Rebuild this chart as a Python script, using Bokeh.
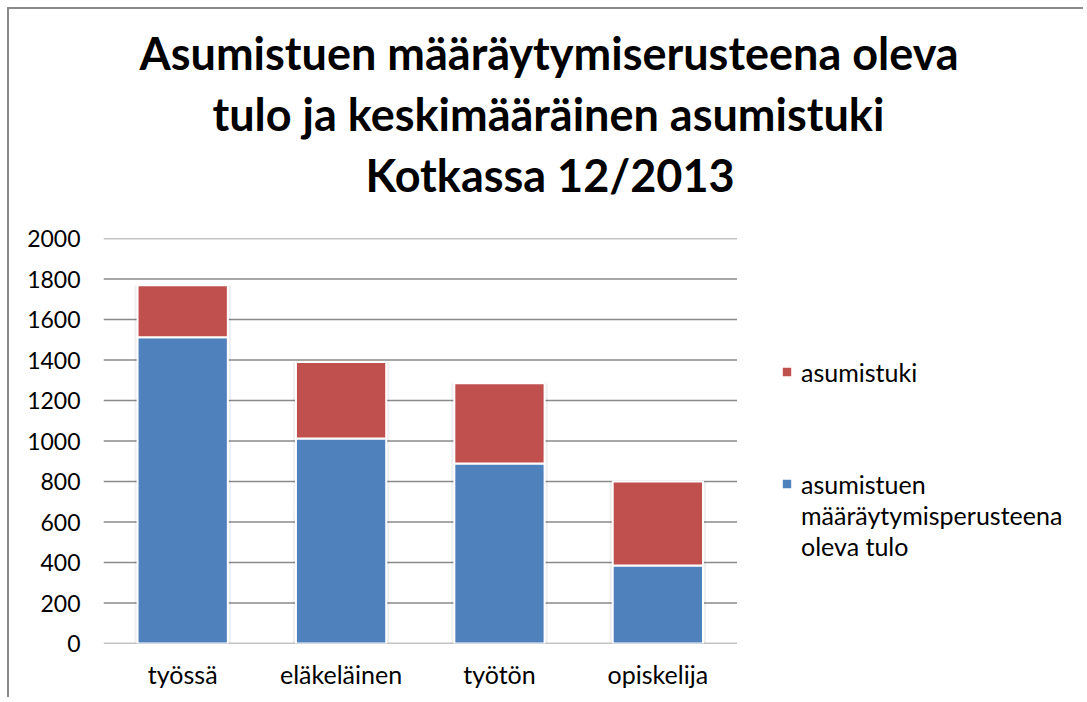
from bokeh.plotting import figure
from bokeh.models import ColumnDataSource, Legend, LegendItem, Title, FixedTicker
from bokeh.embed import file_html
from bokeh.resources import INLINE

categories = ["työssä", "eläkeläinen", "työtön", "opiskelija"]
tulo = [1512, 1012, 889, 385]
asumistuki = [257, 378, 396, 415]
yticks = [0, 200, 400, 600, 800, 1000, 1200, 1400, 1600, 1800, 2000]
title_lines = ["Asumistuen määräytymiserusteena oleva",
               "tulo ja keskimääräinen asumistuki",
               "Kotkassa 12/2013"]
label_tuki = "asumistuki"
label_tulo_lines = ["asumistuen", "määräytymisperusteena", "oleva tulo"]

series_names = ["tulo", "asumistuki"]
colors = ["#4F81BD", "#C0504D"]
grid_color = "#8a8a8a"
FONT = "Lato"

xpos = [i + 0.5 for i in range(len(categories))]
totals = [a + b for a, b in zip(tulo, asumistuki)]
src = ColumnDataSource(dict(x=xpos, tulo=tulo, asumistuki=asumistuki, total=totals))

p = figure(x_range=(0, 6.2), y_range=(0, 2000), width=1076, height=690,
           output_backend="svg", toolbar_location=None,
           min_border_left=94, min_border_right=0, min_border_top=229, min_border_bottom=56)

# grid lines only under the category area
n = len(categories)
p.segment(x0=[0] * len(yticks), x1=[n] * len(yticks), y0=yticks, y1=yticks,
          line_color=grid_color, line_width=1.5)

# faint shadow behind bars
p.vbar(x="x", top="total", width=0.61, source=src, fill_color="#000000",
       fill_alpha=0.06, line_color=None)

rs = p.vbar_stack(series_names, x="x", width=0.57, color=colors, source=src,
                  line_color="white", line_width=2)

dummy = p.vbar(x=[], top=[], width=0.5, fill_alpha=0, line_alpha=0)

# spacer between frame and title
p.add_layout(Title(text=" ", text_font_size="10px", standoff=21), "above")
offsets = [36, 109, 262]
for line, off in reversed(list(zip(title_lines, offsets))):
    t = Title(text=line, text_font=FONT, text_font_size="45px", text_font_style="bold",
              align="left", text_color="#000000", offset=off, standoff=5)
    p.add_layout(t, "above")

p.xgrid.grid_line_color = None
p.ygrid.grid_line_color = None
p.yaxis.ticker = FixedTicker(ticks=yticks)
p.yaxis.axis_line_color = None
p.yaxis.major_tick_line_color = None
p.yaxis.minor_tick_line_color = None
p.yaxis.major_label_standoff = 17
p.yaxis.major_label_text_font_size = "23px"
p.xaxis.ticker = FixedTicker(ticks=xpos)
p.xaxis.major_label_overrides = {x: c for x, c in zip(xpos, categories)}
p.xaxis.axis_line_color = None
p.xaxis.major_tick_line_color = None
p.xaxis.minor_tick_line_color = None
p.xaxis.major_label_standoff = 9
p.xaxis.major_label_text_font_size = "25px"
for ax in (p.xaxis, p.yaxis):
    ax.major_label_text_font = FONT
    ax.major_label_text_color = "#000000"

p.outline_line_color = None

common = dict(label_text_font=FONT, label_text_font_size="25px", label_text_color="#000000",
              border_line_color=None, background_fill_alpha=0, glyph_width=13,
              glyph_height=13, label_standoff=8, padding=0, margin=0, spacing=0,
              label_height=31)
leg1 = Legend(items=[LegendItem(label=label_tuki, renderers=[rs[1]])],
              location=(677, 256), **common)
leg2 = Legend(items=[LegendItem(label=label_tulo_lines[0], renderers=[rs[0]])] +
              [LegendItem(label=t, renderers=[dummy]) for t in label_tulo_lines[1:]],
              location=(677, 82), **common)
p.add_layout(leg1, "center")
p.add_layout(leg2, "center")

p.styles = {"border-top": "2px solid #8a8a8a", "border-left": "2px solid #8a8a8a",
            "margin-left": "7px", "margin-top": "7px"}

open("out.html", "w").write(file_html(p, INLINE))
